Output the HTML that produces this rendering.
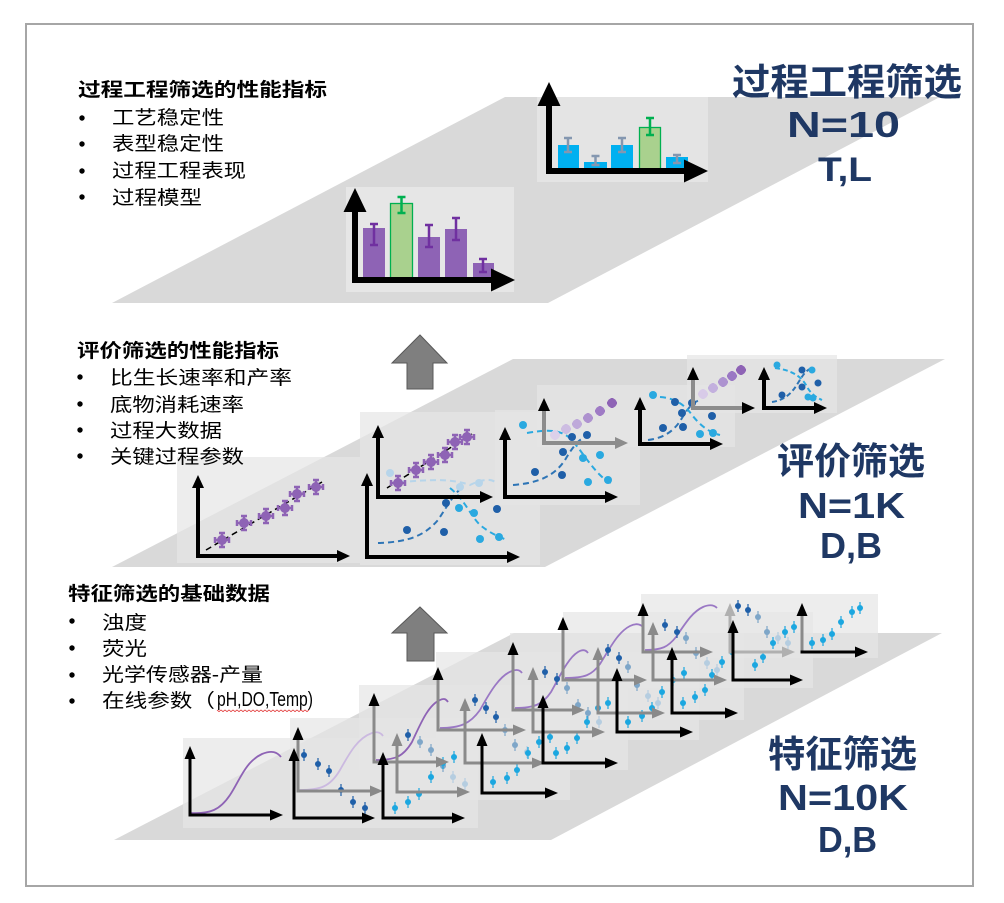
<!DOCTYPE html>
<html><head><meta charset="utf-8"><style>
html,body{margin:0;padding:0;background:#fff;overflow:hidden}
svg{display:block}
.t{font-family:"Liberation Sans","Noto Sans CJK SC",sans-serif}
</style></head><body>
<svg width="1004" height="903" viewBox="0 0 1004 903" xmlns="http://www.w3.org/2000/svg">
<rect width="1004" height="903" fill="#fff"/>
<rect x="26" y="24" width="947" height="862" fill="#fff" stroke="#a6a6a6" stroke-width="2"/>

<!-- planes -->
<polygon points="505,97 940,97 548,303 112,303" fill="#d9d9d9"/>
<polygon points="513,359 945,359 545,567 112,567" fill="#d9d9d9"/>
<polygon points="514,633 942,633 551,840 114,840" fill="#d9d9d9"/>

<!-- ============ TOP ============ -->
<rect x="346" y="187" width="168" height="105" fill="#e6e6e6"/>
<rect x="537" y="97" width="171" height="85" fill="#e4e4e4"/>
<g fill="#8e63b5">
<rect x="363" y="228" width="22" height="51"/>
<rect x="418" y="237" width="22" height="42"/>
<rect x="445" y="229" width="22" height="50"/>
<rect x="473" y="263" width="21" height="16"/>
</g>
<rect x="390.5" y="203.5" width="22" height="75.5" fill="#a9d18e" stroke="#00b050" stroke-width="1.3"/>
<path fill="none" stroke="#7030a0" stroke-width="2.5" d="M374,224V245M370,224h8M370,245h8M429,225V247M425,225h8M425,247h8M456,218V240M452,218h8M452,240h8M483,259V272M479,259h8M479,272h8"/>
<path fill="none" stroke="#00b050" stroke-width="2.5" d="M401.5,197V213M397.5,197h8M397.5,213h8"/>
<g fill="#00b0f0">
<rect x="558" y="145" width="21" height="24"/>
<rect x="584" y="162" width="23" height="7"/>
<rect x="611" y="145" width="22" height="24"/>
<rect x="666" y="157" width="22" height="12"/>
</g>
<rect x="639.5" y="127.5" width="21" height="41.5" fill="#a9d18e" stroke="#00b050" stroke-width="1.3"/>
<path fill="none" stroke="#8497b0" stroke-width="2.5" d="M568,138V152M564,138h8M564,152h8M595.5,156V165M591.5,156h8M591.5,165h8M622,138V152M618,138h8M618,152h8M677,155V163M673,155h8M673,163h8"/>
<path fill="none" stroke="#00b050" stroke-width="2.5" d="M650,118V135M646,118h8M646,135h8"/>
<!-- top axes -->
<g stroke="#000" stroke-width="6">
<line x1="355" y1="210" x2="355" y2="283"/>
<line x1="352" y1="280" x2="493" y2="280"/>
<line x1="549" y1="104" x2="549" y2="174"/>
<line x1="546" y1="171" x2="686" y2="171"/>
</g>
<g fill="#000">
<polygon points="343.5,212 355,188 366.5,212"/>
<polygon points="491,268.5 515,280 491,291.5"/>
<polygon points="537.5,106 549,82 560.5,106"/>
<polygon points="684,159.5 708,171 684,182.5"/>
</g>

<!-- up arrows -->
<polygon points="420,335 447,363 433,363 433,389 407,389 407,363 392,363" fill="#7f7f7f" stroke="#595959" stroke-width="1"/>
<polygon points="420,607 447,633 434,633 434,661 407,661 407,633 392,633" fill="#7f7f7f" stroke="#595959" stroke-width="1"/>

<!-- ============ MIDDLE ============ -->
<g fill="#e6e6e6" fill-opacity="0.7">
<rect x="177" y="457" width="183" height="106"/>
<rect x="360" y="412" width="180" height="153"/>
<rect x="495" y="410" width="145" height="95"/>
<rect x="537" y="385" width="198" height="62"/>
<rect x="687" y="355" width="150" height="58"/>
</g>
<!-- M1 purple scatter -->
<line x1="206" y1="550" x2="322" y2="482" stroke="#000" stroke-width="1.5" stroke-dasharray="6,4"/>
<g fill="#8e63b5" stroke="#8e63b5">
<path fill="none" stroke-width="2.5" d="M215,540h14M222,533v14M215,537v6M229,537v6M219,533h6M219,547h6M237,523h14M244,516v14M237,520v6M251,520v6M241,516h6M241,530h6M259,516h14M266,509v14M259,513v6M273,513v6M263,509h6M263,523h6M278,508h14M285,501v14M278,505v6M292,505v6M282,501h6M282,515h6M290,494h14M297,487v14M290,491v6M304,491v6M294,487h6M294,501h6M309,487h14M316,480v14M309,484v6M323,484v6M313,480h6M313,494h6"/>
<circle cx="222" cy="540" r="4.5"/><circle cx="244" cy="523" r="4.5"/><circle cx="266" cy="516" r="4.5"/><circle cx="285" cy="508" r="4.5"/><circle cx="297" cy="494" r="4.5"/><circle cx="316" cy="487" r="4.5"/>
</g>
<!-- M2 blue dots -->
<path d="M378,543 C410,542 425,535 438,520 C448,505 455,492 463,487" fill="none" stroke="#2e75b6" stroke-width="2" stroke-dasharray="6,4"/>
<path d="M450,488 C465,500 470,515 480,525 C490,533 497,536 507,540" fill="none" stroke="#2aa9e0" stroke-width="2" stroke-dasharray="6,4"/>
<path d="M400,482 C430,480 450,478 470,485 C480,480 490,478 495,482" fill="none" stroke="#b7d5ea" stroke-width="2" stroke-dasharray="6,4"/>
<g fill="#b7d5ea"><circle cx="390" cy="473" r="4"/><circle cx="460" cy="487" r="4"/><circle cx="479" cy="483" r="4"/></g>
<g fill="#1f5fa8"><circle cx="407" cy="530" r="4"/><circle cx="444" cy="532" r="4"/><circle cx="446" cy="503" r="4"/><circle cx="497" cy="509" r="4"/></g>
<g fill="#2aa9e0"><circle cx="459" cy="508" r="4"/><circle cx="474" cy="513" r="4"/><circle cx="480" cy="539" r="4"/><circle cx="499" cy="537" r="4"/></g>
<!-- M3 purple -->
<line x1="387" y1="488" x2="472" y2="434" stroke="#000" stroke-width="1.5" stroke-dasharray="6,4"/>
<g fill="#8e63b5" stroke="#8e63b5">
<path fill="none" stroke-width="2.5" d="M391,483h14M398,476v14M391,480v6M405,480v6M395,476h6M395,490h6M409,470h14M416,463v14M409,467v6M423,467v6M413,463h6M413,477h6M424,462h14M431,455v14M424,459v6M438,459v6M428,455h6M428,469h6M438,455h14M445,448v14M438,452v6M452,452v6M442,448h6M442,462h6M448,442h14M455,435v14M448,439v6M462,439v6M452,435h6M452,449h6M460,437h14M467,430v14M460,434v6M474,434v6M464,430h6M464,444h6"/>
<circle cx="398" cy="483" r="4.5"/><circle cx="416" cy="470" r="4.5"/><circle cx="431" cy="462" r="4.5"/><circle cx="445" cy="455" r="4.5"/><circle cx="455" cy="442" r="4.5"/><circle cx="467" cy="437" r="4.5"/>
</g>
<!-- M4 -->
<path d="M513,485 C540,483 555,475 565,460 C572,448 578,440 585,437" fill="none" stroke="#2e75b6" stroke-width="2" stroke-dasharray="6,4"/>
<path d="M527,433 C545,430 560,428 572,440 C582,452 590,465 600,475 C605,480 608,482 612,483" fill="none" stroke="#2aa9e0" stroke-width="2" stroke-dasharray="6,4"/>
<g fill="#1f5fa8"><circle cx="535" cy="472" r="4"/><circle cx="562" cy="475" r="4"/><circle cx="563" cy="452" r="4"/><circle cx="572" cy="437" r="4"/><circle cx="587" cy="435" r="4"/></g>
<g fill="#2aa9e0"><circle cx="600" cy="455" r="4"/><circle cx="583" cy="458" r="4"/><circle cx="588" cy="482" r="4"/><circle cx="608" cy="480" r="4"/><circle cx="523" cy="425" r="4"/></g>
<!-- M5 fading purple -->
<g stroke-width="2.5">
<g fill="#dcd0ea" stroke="#dcd0ea"><path d="M550,435h10M555,430v10"/><circle cx="555" cy="435" r="3.5"/></g>
<g fill="#cdbde2" stroke="#cdbde2"><path d="M561,429h10M566,424v10"/><circle cx="566" cy="429" r="3.5"/></g>
<g fill="#bea9da" stroke="#bea9da"><path d="M572,424h10M577,419v10"/><circle cx="577" cy="424" r="3.5"/></g>
<g fill="#ae92cf" stroke="#ae92cf"><path d="M583,418h10M588,413v10"/><circle cx="588" cy="418" r="3.5"/></g>
<g fill="#9f7bc5" stroke="#9f7bc5"><path d="M595,411h10M600,406v10"/><circle cx="600" cy="411" r="3.5"/></g>
<g fill="#8e63b5" stroke="#8e63b5"><path d="M607,403h10M612,398v10"/><circle cx="612" cy="403" r="3.5"/></g>
</g>
<!-- M6 -->
<path d="M648,440 C665,438 675,430 682,418 C688,408 693,402 700,400" fill="none" stroke="#2e75b6" stroke-width="2" stroke-dasharray="6,4"/>
<path d="M660,397 C675,398 685,405 692,415 C700,425 708,432 720,435" fill="none" stroke="#2aa9e0" stroke-width="2" stroke-dasharray="6,4"/>
<g fill="#1f5fa8"><circle cx="675" cy="402" r="4"/><circle cx="692" cy="403" r="4"/><circle cx="682" cy="413" r="4"/><circle cx="712" cy="416" r="4"/><circle cx="683" cy="427" r="4"/><circle cx="663" cy="428" r="4"/></g>
<g fill="#2aa9e0"><circle cx="653" cy="395" r="4"/><circle cx="700" cy="434" r="4"/><circle cx="713" cy="433" r="4"/></g>
<!-- M7 purple -->
<g stroke-width="2.5">
<g fill="#d8cbe8" stroke="#d8cbe8"><path d="M698,394h10M703,389v10"/><circle cx="703" cy="394" r="3.5"/></g>
<g fill="#c3b0de" stroke="#c3b0de"><path d="M708,388h10M713,383v10"/><circle cx="713" cy="388" r="3.5"/></g>
<g fill="#ad93d0" stroke="#ad93d0"><path d="M718,382h10M723,377v10"/><circle cx="723" cy="382" r="3.5"/></g>
<g fill="#9a78c4" stroke="#9a78c4"><path d="M727,376h10M732,371v10"/><circle cx="732" cy="376" r="3.5"/></g>
<g fill="#8e63b5" stroke="#8e63b5"><path d="M736,370h10M741,365v10"/><circle cx="741" cy="370" r="3.5"/></g>
</g>
<!-- M8 -->
<path d="M772,402 C785,400 792,393 798,383 C803,375 806,370 812,368" fill="none" stroke="#2e75b6" stroke-width="2" stroke-dasharray="5,3"/>
<path d="M775,368 C790,370 800,375 806,385 C810,393 815,397 822,400" fill="none" stroke="#2aa9e0" stroke-width="2" stroke-dasharray="5,3"/>
<g fill="#1f5fa8"><circle cx="802" cy="370" r="3.5"/><circle cx="818" cy="383" r="3.5"/><circle cx="802" cy="387" r="3.5"/><circle cx="782" cy="395" r="3.5"/></g>
<g fill="#2aa9e0"><circle cx="777" cy="365" r="3.5"/><circle cx="808" cy="397" r="3.5"/><circle cx="813" cy="398" r="3.5"/><circle cx="812" cy="370" r="3.5"/></g>

<!-- middle axes -->
<g stroke="#000" stroke-width="4">
<line x1="198" y1="487" x2="198" y2="558"/><line x1="196" y1="556" x2="338" y2="556"/>
<line x1="367" y1="485" x2="367" y2="559"/><line x1="365" y1="557" x2="508" y2="557"/>
<line x1="378" y1="437" x2="378" y2="499"/><line x1="376" y1="497" x2="481" y2="497"/>
<line x1="505" y1="439" x2="505" y2="499"/><line x1="503" y1="497" x2="606" y2="497"/>
<line x1="640" y1="409" x2="640" y2="446"/><line x1="638" y1="444" x2="711" y2="444"/>
<line x1="764" y1="379" x2="764" y2="410"/><line x1="762" y1="408" x2="815" y2="408"/>
</g>
<g stroke="#8c8c8c" stroke-width="4">
<line x1="544" y1="410" x2="544" y2="445"/><line x1="542" y1="443" x2="616" y2="443"/>
<line x1="693" y1="379" x2="693" y2="410"/><line x1="691" y1="408" x2="743" y2="408"/>
</g>
<g fill="#000">
<polygon points="192,488 198,475 204,488"/><polygon points="337,550 350,556 337,562"/>
<polygon points="361,486 367,473 373,486"/><polygon points="507,551 520,557 507,563"/>
<polygon points="372,438 378,425 384,438"/><polygon points="480,491 493,497 480,503"/>
<polygon points="499,440 505,427 511,440"/><polygon points="605,491 618,497 605,503"/>
<polygon points="538,411 544,398 550,411"/>
<polygon points="634,410 640,397 646,410"/><polygon points="710,438 723,444 710,450"/>
<polygon points="687,380 693,367 699,380"/><polygon points="742,402 755,408 742,414"/>
<polygon points="758,380 764,367 770,380"/><polygon points="814,402 827,408 814,414"/>
</g>
<polygon points="615,437 628,443 615,449" fill="#8c8c8c"/>

<!-- ============ BOTTOM ============ -->
<g fill="#e6e6e6" fill-opacity="0.7">
<rect x="183" y="738" width="295" height="90"/>
<rect x="290" y="718" width="280" height="82"/>
<rect x="359" y="685" width="269" height="85"/>
<rect x="436" y="652" width="263" height="88"/>
<rect x="510" y="633" width="234" height="87"/>
<rect x="563" y="612" width="250" height="76"/>
<rect x="641" y="594" width="237" height="64"/>
</g>
<!-- sigmoids -->
<g fill="none" stroke-width="1.8">
<path stroke="#8e63b5" d="M191,813 C210,814 220,810 230,795 C240,780 245,762 262,754 C272,750 277,752 281,757"/>
<path stroke="#cbb9e0" d="M300,790 C320,790 330,787 340,770 C350,752 358,738 372,733 C378,731 381,733 383,736"/>
<path stroke="#8e63b5" d="M376,760 C395,760 403,757 412,742 C420,725 428,705 440,700 C444,698 446,699 448,702"/>
<path stroke="#9a78c4" d="M440,728 C460,728 470,724 480,710 C490,692 500,675 512,671 C517,669 520,670 522,673"/>
<path stroke="#9a78c4" d="M515,708 C535,708 543,704 551,692 C560,676 568,658 578,652 C583,649 586,650 588,653"/>
<path stroke="#9a78c4" d="M565,678 C585,678 592,675 600,664 C610,648 618,632 630,626 C636,623 640,624 643,627"/>
<path stroke="#9a78c4" d="M645,650 C662,650 668,647 676,637 C685,624 692,612 703,607 C710,604 714,605 717,608"/>
</g>
<!-- dots dark -->
<g fill="#1f5fa8" stroke="#1f5fa8">
<path fill="none" stroke-width="1.2" d="M304,749v12M318,758v12M329,765v12M341,784v12M353,796v12M365,802v12M408,729v12M475,694v12M486,702v12M496,711v12M545,666v12M557,673v12M608,644v12M619,652v12M665,619v12M677,626v12M738,600v12M748,604v12"/>
<g stroke="none"><circle cx="304" cy="755" r="3"/><circle cx="318" cy="764" r="3"/><circle cx="329" cy="771" r="3"/><circle cx="341" cy="790" r="3"/><circle cx="353" cy="802" r="3"/><circle cx="365" cy="808" r="3"/><circle cx="408" cy="735" r="3"/><circle cx="475" cy="700" r="3"/><circle cx="486" cy="708" r="3"/><circle cx="496" cy="717" r="3"/><circle cx="545" cy="672" r="3"/><circle cx="557" cy="679" r="3"/><circle cx="608" cy="650" r="3"/><circle cx="619" cy="658" r="3"/><circle cx="665" cy="625" r="3"/><circle cx="677" cy="632" r="3"/><circle cx="738" cy="606" r="3"/><circle cx="748" cy="610" r="3"/></g>
</g>
<!-- dots steel -->
<g fill="#7ea6c8" stroke="#7ea6c8">
<path fill="none" stroke-width="1.2" d="M420,736v12M431,744v12M443,760v12M505,724v12M515,739v12M567,682v12M578,699v12M588,707v12M628,661v12M637,679v12M686,632v12M696,647v12M758,611v12M767,626v12"/>
<g stroke="none"><circle cx="420" cy="742" r="3"/><circle cx="431" cy="750" r="3"/><circle cx="443" cy="766" r="3"/><circle cx="505" cy="730" r="3"/><circle cx="515" cy="745" r="3"/><circle cx="567" cy="688" r="3"/><circle cx="578" cy="705" r="3"/><circle cx="588" cy="713" r="3"/><circle cx="628" cy="667" r="3"/><circle cx="637" cy="685" r="3"/><circle cx="686" cy="638" r="3"/><circle cx="696" cy="653" r="3"/><circle cx="758" cy="617" r="3"/><circle cx="767" cy="632" r="3"/></g>
</g>
<!-- dots pale -->
<g fill="#b5cde0" stroke="#b5cde0">
<path fill="none" stroke-width="1.2" d="M453,771v12M465,778v12M527,746v12M599,716v12M648,690v12M658,697v12M707,657v12M717,664v12M778,632v12M788,637v12"/>
<g stroke="none"><circle cx="453" cy="777" r="3"/><circle cx="465" cy="784" r="3"/><circle cx="527" cy="752" r="3"/><circle cx="599" cy="722" r="3"/><circle cx="648" cy="696" r="3"/><circle cx="658" cy="703" r="3"/><circle cx="707" cy="663" r="3"/><circle cx="717" cy="670" r="3"/><circle cx="778" cy="638" r="3"/><circle cx="788" cy="643" r="3"/></g>
</g>
<!-- dots cyan -->
<g fill="#1ba7e0" stroke="#1ba7e0">
<path fill="none" stroke-width="1.2" d="M395,802v12M408,796v12M419,788v12M431,771v12M443,757v12M454,751v12M493,776v12M507,772v12M517,764v12M528,747v12M539,736v12M550,731v12M556,747v12M567,742v12M577,732v12M587,716v12M598,702v12M608,697v12M628,716v12M642,710v12M652,702v12M662,686v12M673,674v12M684,667v12M683,697v12M695,691v12M705,684v12M712,669v12M722,656v12M732,646v12M755,659v12M763,651v12M773,637v12M785,626v12M794,621v12M812,637v12M823,634v12M832,628v12M841,616v12M852,606v12M860,602v12"/>
<g stroke="none"><circle cx="395" cy="808" r="3"/><circle cx="408" cy="802" r="3"/><circle cx="419" cy="794" r="3"/><circle cx="431" cy="777" r="3"/><circle cx="443" cy="763" r="3"/><circle cx="454" cy="757" r="3"/><circle cx="493" cy="782" r="3"/><circle cx="507" cy="778" r="3"/><circle cx="517" cy="770" r="3"/><circle cx="528" cy="753" r="3"/><circle cx="539" cy="742" r="3"/><circle cx="550" cy="737" r="3"/><circle cx="556" cy="753" r="3"/><circle cx="567" cy="748" r="3"/><circle cx="577" cy="738" r="3"/><circle cx="587" cy="722" r="3"/><circle cx="598" cy="708" r="3"/><circle cx="608" cy="703" r="3"/><circle cx="628" cy="722" r="3"/><circle cx="642" cy="716" r="3"/><circle cx="652" cy="708" r="3"/><circle cx="662" cy="692" r="3"/><circle cx="673" cy="680" r="3"/><circle cx="684" cy="673" r="3"/><circle cx="683" cy="703" r="3"/><circle cx="695" cy="697" r="3"/><circle cx="705" cy="690" r="3"/><circle cx="712" cy="675" r="3"/><circle cx="722" cy="662" r="3"/><circle cx="732" cy="652" r="3"/><circle cx="755" cy="665" r="3"/><circle cx="763" cy="657" r="3"/><circle cx="773" cy="643" r="3"/><circle cx="785" cy="632" r="3"/><circle cx="794" cy="627" r="3"/><circle cx="812" cy="643" r="3"/><circle cx="823" cy="640" r="3"/><circle cx="832" cy="634" r="3"/><circle cx="841" cy="622" r="3"/><circle cx="852" cy="612" r="3"/><circle cx="860" cy="608" r="3"/></g>
</g>

<!-- bottom axes: gray -->
<g stroke="#8a8a8a" stroke-width="3">
<line x1="298" y1="739" x2="298" y2="792.5"/><line x1="296.5" y1="791" x2="371" y2="791"/>
<line x1="374" y1="705" x2="374" y2="763.5"/><line x1="372.5" y1="762" x2="437" y2="762"/>
<line x1="397" y1="745" x2="397" y2="793.5"/><line x1="395.5" y1="792" x2="458" y2="792"/>
<line x1="438" y1="679" x2="438" y2="731.5"/><line x1="436.5" y1="730" x2="514" y2="730"/>
<line x1="465" y1="710" x2="465" y2="764.5"/><line x1="463.5" y1="763" x2="533" y2="763"/>
<line x1="513" y1="654" x2="513" y2="711.5"/><line x1="511.5" y1="710" x2="573" y2="710"/>
<line x1="533" y1="679" x2="533" y2="733.5"/><line x1="531.5" y1="732" x2="593" y2="732"/>
<line x1="563" y1="629" x2="563" y2="681.5"/><line x1="561.5" y1="680" x2="635" y2="680"/>
<line x1="598" y1="659" x2="598" y2="714.5"/><line x1="596.5" y1="713" x2="653" y2="713"/>
<line x1="643" y1="615" x2="643" y2="653.5"/><line x1="641.5" y1="652" x2="701" y2="652"/>
<line x1="653" y1="634" x2="653" y2="681.5"/><line x1="651.5" y1="680" x2="715" y2="680"/>
<line x1="802" y1="615" x2="802" y2="653.5"/>
</g>
<g stroke="#b0b0b0" stroke-width="3">
<line x1="730" y1="615" x2="730" y2="653.5"/><line x1="728.5" y1="652" x2="783" y2="652"/>
</g>
<g fill="#8a8a8a">
<polygon points="370,785.5 383,791 370,796.5"/>
<polygon points="436,756.5 449,762 436,767.5"/>
<polygon points="391.5,746 397,733 402.5,746"/><polygon points="457,786.5 470,792 457,797.5"/>
<polygon points="513,724.5 526,730 513,735.5"/>
<polygon points="459.5,711 465,698 470.5,711"/><polygon points="532,757.5 545,763 532,768.5"/>
<polygon points="572,704.5 585,710 572,715.5"/>
<polygon points="527.5,680 533,667 538.5,680"/><polygon points="592,726.5 605,732 592,737.5"/>
<polygon points="634,674.5 647,680 634,685.5"/>
<polygon points="592.5,660 598,647 603.5,660"/><polygon points="652,707.5 665,713 652,718.5"/>
<polygon points="700,646.5 713,652 700,657.5"/>
<polygon points="647.5,635 653,622 658.5,635"/><polygon points="714,674.5 727,680 714,685.5"/>
</g>
<g fill="#b0b0b0">
<polygon points="724.5,616 730,603 735.5,616"/><polygon points="782,646.5 795,652 782,657.5"/>
</g>
<!-- bottom axes: black -->
<g stroke="#000" stroke-width="3">
<line x1="190" y1="758" x2="190" y2="816.5"/><line x1="188.5" y1="815" x2="271" y2="815"/>
<line x1="294" y1="760" x2="294" y2="819.5"/><line x1="292.5" y1="818" x2="363" y2="818"/>
<line x1="383" y1="764" x2="383" y2="819.5"/><line x1="381.5" y1="818" x2="453" y2="818"/>
<line x1="482" y1="745" x2="482" y2="794.5"/><line x1="480.5" y1="793" x2="546" y2="793"/>
<line x1="543" y1="707" x2="543" y2="764.5"/><line x1="541.5" y1="763" x2="606" y2="763"/>
<line x1="617" y1="680" x2="617" y2="733.5"/><line x1="615.5" y1="732" x2="681" y2="732"/>
<line x1="672" y1="659" x2="672" y2="714.5"/><line x1="670.5" y1="713" x2="726" y2="713"/>
<line x1="733" y1="632" x2="733" y2="681.5"/><line x1="731.5" y1="680" x2="791" y2="680"/>
<line x1="800.5" y1="652" x2="856" y2="652"/>
</g>
<g fill="#000">
<polygon points="184.5,759 190,746 195.5,759"/><polygon points="270,809.5 283,815 270,820.5"/>
<polygon points="292.5,740 298,727 303.5,740"/>
<polygon points="288.5,761 294,748 299.5,761"/><polygon points="362,812.5 375,818 362,823.5"/>
<polygon points="368.5,706 374,693 379.5,706"/>
<polygon points="377.5,765 383,752 388.5,765"/><polygon points="452,812.5 465,818 452,823.5"/>
<polygon points="432.5,680 438,667 443.5,680"/>
<polygon points="476.5,746 482,733 487.5,746"/><polygon points="545,787.5 558,793 545,798.5"/>
<polygon points="507.5,655 513,642 518.5,655"/>
<polygon points="537.5,708 543,695 548.5,708"/><polygon points="605,757.5 618,763 605,768.5"/>
<polygon points="557.5,630 563,617 568.5,630"/>
<polygon points="611.5,681 617,668 622.5,681"/><polygon points="680,726.5 693,732 680,737.5"/>
<polygon points="637.5,616 643,603 648.5,616"/>
<polygon points="666.5,660 672,647 677.5,660"/><polygon points="725,707.5 738,713 725,718.5"/>
<polygon points="727.5,633 733,620 738.5,633"/><polygon points="790,674.5 803,680 790,685.5"/>
<polygon points="796.5,616 802,603 807.5,616"/><polygon points="855,646.5 868,652 855,657.5"/>
</g>

<!-- ============ TEXT ============ -->
<g class="t" fill="#000">
<text x="78" y="96" font-size="19" font-weight="bold" textLength="249" lengthAdjust="spacingAndGlyphs">过程工程筛选的性能指标</text>
<text x="112" y="124" font-size="19" textLength="112" lengthAdjust="spacingAndGlyphs">工艺稳定性</text>
<text x="112" y="150" font-size="19" textLength="112" lengthAdjust="spacingAndGlyphs">表型稳定性</text>
<text x="112" y="177" font-size="19" textLength="134" lengthAdjust="spacingAndGlyphs">过程工程表现</text>
<text x="112" y="204" font-size="19" textLength="90" lengthAdjust="spacingAndGlyphs">过程模型</text>

<text x="77" y="357" font-size="19" font-weight="bold" textLength="202" lengthAdjust="spacingAndGlyphs">评价筛选的性能指标</text>
<text x="110" y="384" font-size="19" textLength="182" lengthAdjust="spacingAndGlyphs">比生长速率和产率</text>
<text x="110" y="411" font-size="19" textLength="134" lengthAdjust="spacingAndGlyphs">底物消耗速率</text>
<text x="110" y="437" font-size="19" textLength="112" lengthAdjust="spacingAndGlyphs">过程大数据</text>
<text x="110" y="463" font-size="19" textLength="134" lengthAdjust="spacingAndGlyphs">关键过程参数</text>

<text x="68" y="600" font-size="19" font-weight="bold" textLength="202" lengthAdjust="spacingAndGlyphs">特征筛选的基础数据</text>
<text x="102" y="629" font-size="19" textLength="45" lengthAdjust="spacingAndGlyphs">浊度</text>
<text x="102" y="655" font-size="19" textLength="45" lengthAdjust="spacingAndGlyphs">荧光</text>
<text x="102" y="681" font-size="19" textLength="161" lengthAdjust="spacingAndGlyphs">光学传感器-产量</text>
<text x="102" y="707" font-size="19" textLength="113" lengthAdjust="spacingAndGlyphs">在线参数（</text>
<text x="217" y="706" font-size="20" textLength="96" lengthAdjust="spacingAndGlyphs">pH,DO,Temp)</text>
</g>
<path d="M217,710l2,1.6l2,-1.6l2,1.6l2,-1.6l2,1.6l2,-1.6l2,1.6l2,-1.6l2,1.6l2,-1.6l2,1.6l2,-1.6l2,1.6l2,-1.6l2,1.6l2,-1.6l2,1.6l2,-1.6l2,1.6l2,-1.6l2,1.6l2,-1.6l2,1.6l2,-1.6l2,1.6l2,-1.6l2,1.6l2,-1.6l2,1.6l2,-1.6l2,1.6l2,-1.6l2,1.6l2,-1.6l2,1.6l2,-1.6l2,1.6l2,-1.6l2,1.6l2,-1.6l2,1.6l2,-1.6l2,1.6l2,-1.6l2,1.6l2,-1.6" fill="none" stroke="#e03030" stroke-width="0.8"/>
<!-- bullets -->
<g fill="#000">
<circle cx="82" cy="118" r="2.7"/><circle cx="82" cy="144" r="2.7"/><circle cx="82" cy="171" r="2.7"/><circle cx="82" cy="197" r="2.7"/>
<circle cx="80" cy="377" r="2.7"/><circle cx="80" cy="404" r="2.7"/><circle cx="80" cy="430" r="2.7"/><circle cx="80" cy="456" r="2.7"/>
<circle cx="72" cy="621" r="2.7"/><circle cx="72" cy="648" r="2.7"/><circle cx="72" cy="675" r="2.7"/><circle cx="72" cy="701" r="2.7"/>
</g>

<!-- big titles -->
<g class="t" fill="#1f3864" font-weight="bold">
<text x="732" y="95" font-size="37" textLength="230" lengthAdjust="spacingAndGlyphs">过程工程筛选</text>
<text x="787" y="137" font-size="36" textLength="113" lengthAdjust="spacingAndGlyphs">N=10</text>
<text x="818" y="181" font-size="34" textLength="54" lengthAdjust="spacingAndGlyphs">T,L</text>
<text x="777" y="474" font-size="37" textLength="148" lengthAdjust="spacingAndGlyphs">评价筛选</text>
<text x="798" y="518" font-size="36" textLength="107" lengthAdjust="spacingAndGlyphs">N=1K</text>
<text x="820" y="558" font-size="36" textLength="62" lengthAdjust="spacingAndGlyphs">D,B</text>
<text x="768" y="767" font-size="37" textLength="149" lengthAdjust="spacingAndGlyphs">特征筛选</text>
<text x="778" y="810" font-size="36" textLength="130" lengthAdjust="spacingAndGlyphs">N=10K</text>
<text x="818" y="852" font-size="36" textLength="59" lengthAdjust="spacingAndGlyphs">D,B</text>
</g>
</svg>
</body></html>
